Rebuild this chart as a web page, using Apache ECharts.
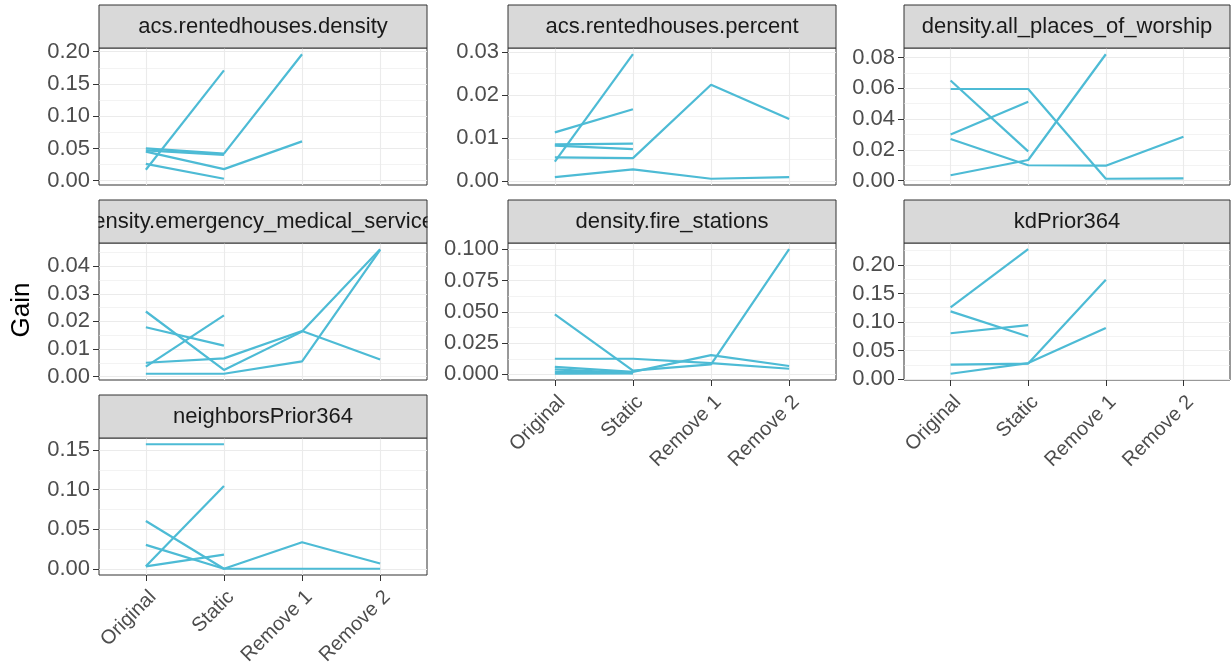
<!DOCTYPE html>
<html>
<head>
<meta charset="utf-8">
<title>Gain by feature</title>
<script src="https://cdn.jsdelivr.net/npm/echarts@6/dist/echarts.min.js"></script>
<style>
  html, body { margin: 0; padding: 0; background: #ffffff; }
  #chart { width: 1231px; height: 672px; }
</style>
</head>
<body>
<div id="chart"></div>
<script>
// Model stages on the x axis
const stages = ['Original', 'Static', 'Remove 1', 'Remove 2'];

// Facet titles
const features = [
  'acs.rentedhouses.density',
  'acs.rentedhouses.percent',
  'density.all_places_of_worship',
  'density.emergency_medical_services',
  'density.fire_stations',
  'kdPrior364',
  'neighborsPrior364'
];

// Gain per run, one row per run, one value per stage (null = stage not reached)
const rentedDensity = [
  [0.017, 0.171, null, null],
  [0.050, 0.042, 0.196, null],
  [0.047, 0.040, null, null],
  [0.045, 0.018, 0.061, null],
  [0.026, 0.003, null, null]
];
const rentedPercent = [
  [0.0045, 0.0295, null, null],
  [0.0113, 0.0167, null, null],
  [0.0085, 0.0087, null, null],
  [0.0082, 0.0074, null, null],
  [0.0055, 0.0053, 0.0224, 0.0144],
  [0.0009, 0.0027, 0.0005, 0.0009]
];
const placesOfWorship = [
  [0.065, 0.019, null, null],
  [0.0595, 0.0595, 0.0012, 0.0015],
  [0.030, 0.0513, null, null],
  [0.027, 0.010, 0.0097, 0.0285],
  [0.0035, 0.0134, 0.0821, null]
];
const emergencyMedical = [
  [0.0236, 0.0024, 0.0163, 0.0462],
  [0.0179, 0.0112, null, null],
  [0.0036, 0.0222, null, null],
  [0.0050, 0.0066, 0.0165, 0.0062],
  [0.0010, 0.0010, 0.0055, 0.0460]
];
const fireStations = [
  [0.048, 0.003, 0.008, 0.100],
  [0.0125, 0.0125, 0.009, 0.0045],
  [0.006, 0.002, 0.0154, 0.0067],
  [0.004, 0.001, null, null],
  [0.002, 0.0015, null, null],
  [0.0005, 0.0008, null, null]
];
const kdPrior = [
  [0.1255, 0.2275, null, null],
  [0.1186, 0.0745, null, null],
  [0.0802, 0.0946, null, null],
  [0.0252, 0.027, 0.174, null],
  [0.0092, 0.028, 0.0894, null]
];
const neighborsPrior = [
  [0.1574, 0.1574, null, null],
  [0.0033, 0.1045, null, null],
  [0.0603, 0.0, 0.0, 0.0],
  [0.0302, 0.0, 0.0335, 0.0066],
  [0.0030, 0.0178, null, null]
];

// Y tick labels per facet
const ticksRentedDensity = ['0.00', '0.05', '0.10', '0.15', '0.20'];
const ticksRentedPercent = ['0.00', '0.01', '0.02', '0.03'];
const ticksWorship = ['0.00', '0.02', '0.04', '0.06', '0.08'];
const ticksEmergency = ['0.00', '0.01', '0.02', '0.03', '0.04'];
const ticksFire = ['0.000', '0.025', '0.050', '0.075', '0.100'];
const ticksKd = ['0.00', '0.05', '0.10', '0.15', '0.20'];
const ticksNeighbors = ['0.00', '0.05', '0.10', '0.15'];

const panels = [
  { name: features[0], lines: rentedDensity, ticks: ticksRentedDensity },
  { name: features[1], lines: rentedPercent, ticks: ticksRentedPercent },
  { name: features[2], lines: placesOfWorship, ticks: ticksWorship },
  { name: features[3], lines: emergencyMedical, ticks: ticksEmergency },
  { name: features[4], lines: fireStations, ticks: ticksFire },
  { name: features[5], lines: kdPrior, ticks: ticksKd },
  { name: features[6], lines: neighborsPrior, ticks: ticksNeighbors }
];

// Facet layout (pixels)
const colLeft = [99, 508, 904];
const colWidth = [328, 328, 326];
const rowTop = [5, 200, 395];
const stripH = 43;
const plotH = 137;

const FONT = '"Liberation Sans", Arial, Helvetica, sans-serif';
const STRIP_FONT = '22px ' + FONT;
const LINE_COLOR = '#4DBBD5';
const GRID_COLOR = '#EBEBEB';
const DARK = '#333333';

const measureCtx = document.createElement('canvas').getContext('2d');
measureCtx.font = STRIP_FONT;

const grids = [], xAxes = [], yAxes = [], series = [], graphics = [];

function labelFor(ticks, v) {
  for (const t of ticks) if (Math.abs(Number(t) - v) < 1e-9) return t;
  return '';
}

panels.forEach((p, i) => {
  const col = i % 3, row = Math.floor(i / 3);
  const left = colLeft[col], width = colWidth[col];
  const stripTop = rowTop[row];
  const top = stripTop + stripH;
  const bottomOfColumn = i + 3 >= panels.length;

  // free y scale, expanded 5% on each side
  const vals = p.lines.flat().filter(v => v !== null);
  const lo = Math.min(...vals), hi = Math.max(...vals);
  const pad = (hi - lo) * 0.05;
  const yMin = lo - pad, yMax = hi + pad;
  const major = p.ticks.map(Number);
  const step = major[1] - major[0];
  const minor = [];
  for (let k = -1; k <= major.length + 1; k++) {
    const v = major[0] + step * (k + 0.5);
    if (v > yMin && v < yMax) minor.push(+v.toFixed(8));
  }

  grids.push({
    left: left, top: top, width: width, height: plotH,
    show: true, backgroundColor: '#ffffff',
    borderColor: DARK, borderWidth: 1
  });

  xAxes.push({
    type: 'value', gridIndex: i, min: -0.6, max: 3.6, position: 'bottom',
    axisLine: { show: false, onZero: false },
    axisTick: { show: bottomOfColumn, length: 6, lineStyle: { color: DARK, width: 1 }, customValues: [0, 1, 2, 3] },
    axisLabel: {
      show: bottomOfColumn, customValues: [0, 1, 2, 3],
      rotate: 45, align: 'right', verticalAlign: 'top', margin: 12,
      formatter: v => stages[Math.round(v)],
      color: '#4D4D4D', fontSize: 20, fontFamily: FONT
    },
    splitLine: { show: true, lineStyle: { color: GRID_COLOR, width: 1.1 } }
  });

  yAxes.push({
    type: 'value', gridIndex: i, min: yMin, max: yMax, position: 'left',
    axisLine: { show: false, onZero: false },
    axisTick: { show: true, length: 6, lineStyle: { color: DARK, width: 1 }, customValues: major },
    axisLabel: {
      customValues: major, margin: 9,
      formatter: v => labelFor(p.ticks, v),
      color: '#4D4D4D', fontSize: 22, fontFamily: FONT
    },
    splitLine: { show: true, lineStyle: { color: GRID_COLOR, width: 1.1 } }
  });
  // minor gridlines
  yAxes.push({
    type: 'value', gridIndex: i, min: yMin, max: yMax, position: 'right',
    axisLine: { show: false, onZero: false },
    axisTick: { show: false, customValues: minor },
    axisLabel: { show: false, customValues: minor },
    splitLine: { show: true, lineStyle: { color: GRID_COLOR, width: 0.6 } }
  });

  p.lines.forEach(line => {
    const pts = [];
    line.forEach((v, s) => { if (v !== null) pts.push([s, v]); });
    series.push({
      type: 'line', xAxisIndex: i, yAxisIndex: i * 2, data: pts,
      symbol: 'none', silent: true,
      lineStyle: { color: LINE_COLOR, width: 2.2 },
      z: 5
    });
  });

  // facet strip
  graphics.push({ type: 'rect', z: 10, shape: { x: left, y: stripTop, width: width, height: stripH }, style: { fill: '#D9D9D9' } });
  graphics.push({
    type: 'text', z: 11, x: left + width / 2, y: stripTop + stripH / 2,
    style: { text: p.name, fill: '#1A1A1A', font: STRIP_FONT, align: 'center', verticalAlign: 'middle' }
  });
  // long titles are cut at the strip edges (mask only the text band)
  const overflow = (measureCtx.measureText(p.name).width - width) / 2;
  if (overflow > 0) {
    const w = overflow + 3;
    const y0 = stripTop + 6, h = stripH - 12;
    graphics.push({ type: 'rect', z: 12, shape: { x: left - w, y: y0, width: w - 0.5, height: h }, style: { fill: '#ffffff' } });
    graphics.push({ type: 'rect', z: 12, shape: { x: left + width + 0.5, y: y0, width: w, height: h }, style: { fill: '#ffffff' } });
  }
  graphics.push({ type: 'rect', z: 13, shape: { x: left, y: stripTop, width: width, height: stripH }, style: { fill: 'none', stroke: DARK, lineWidth: 1 } });
});

// y axis title
graphics.push({
  type: 'text', z: 10, x: 22, y: 310, rotation: Math.PI / 2,
  style: { text: 'Gain', fill: '#000000', font: '26px ' + FONT, align: 'center', verticalAlign: 'middle' }
});

const chart = echarts.init(document.getElementById('chart'), null, { renderer: 'canvas' });
chart.setOption({
  animation: false,
  backgroundColor: '#ffffff',
  grid: grids,
  xAxis: xAxes,
  yAxis: yAxes,
  series: series,
  graphic: { elements: graphics }
});
</script>
</body>
</html>
